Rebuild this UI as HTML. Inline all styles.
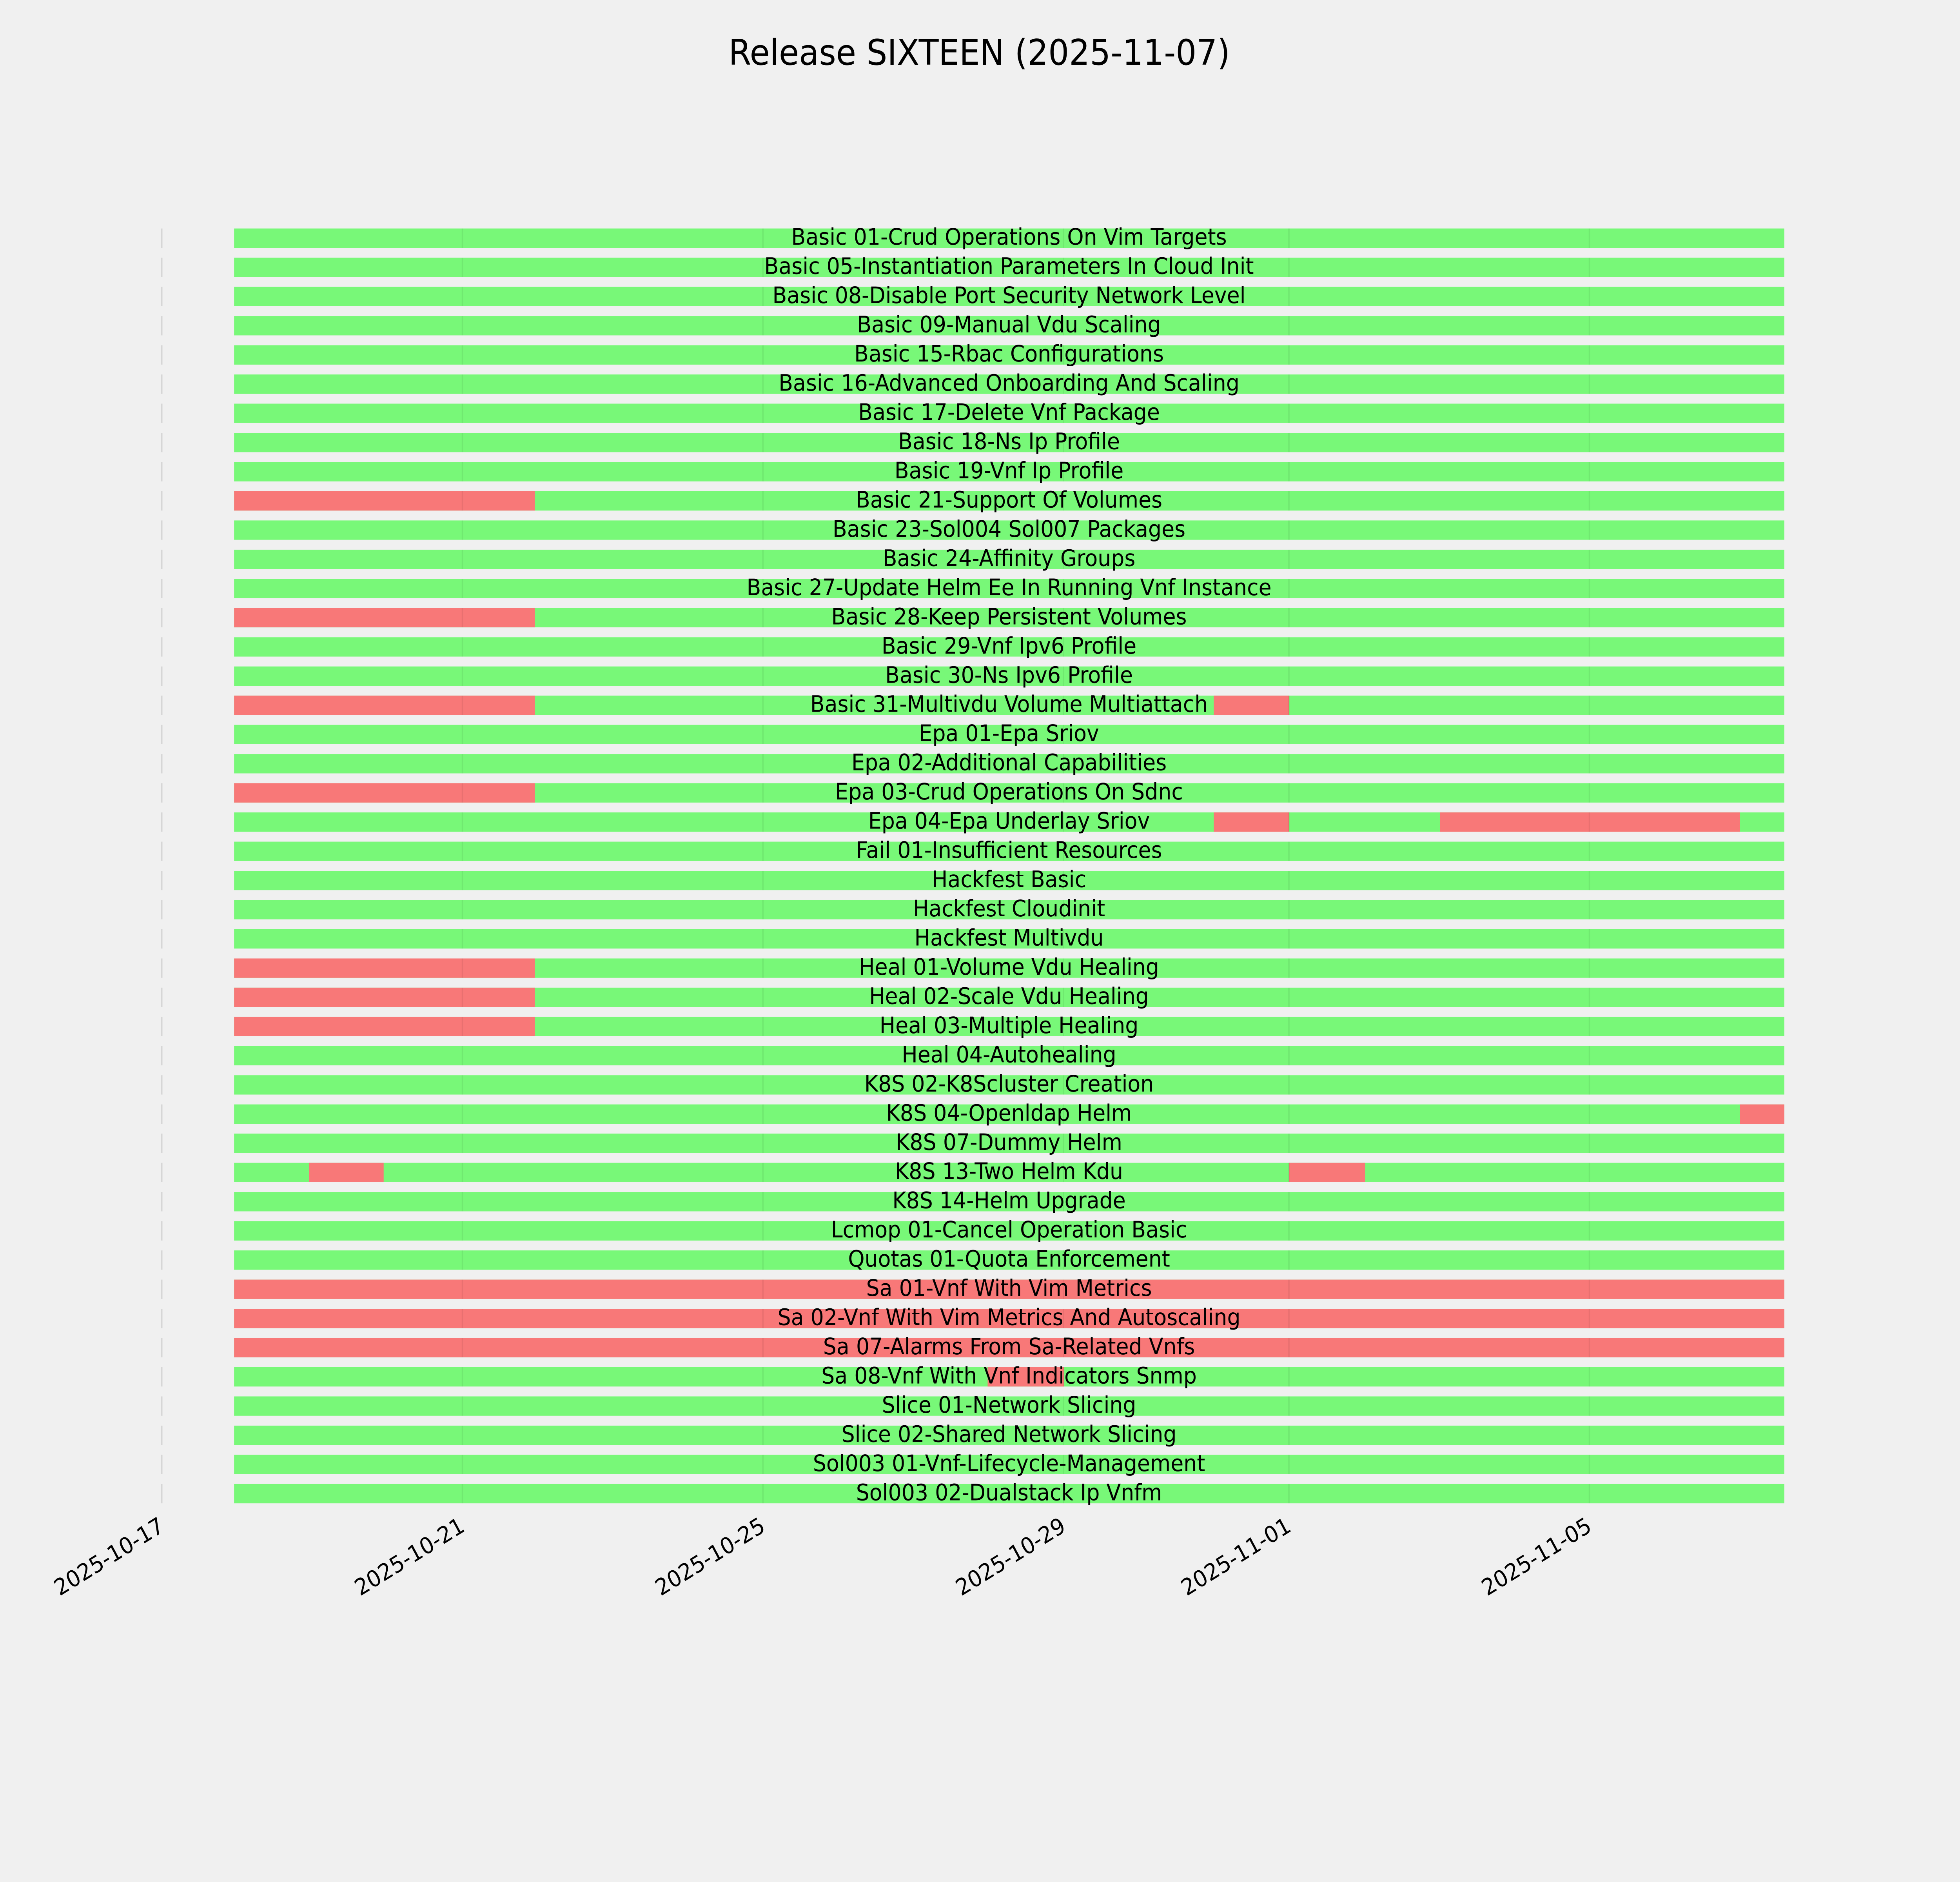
<!DOCTYPE html>
<html><head><meta charset="utf-8"><style>
html,body{margin:0;padding:0;background:#f0f0f0;width:100%;height:100%;overflow:hidden}
svg{display:block;position:fixed;left:0;top:0;width:100vw;height:100vh}
text{font-family:"DejaVu Sans","Liberation Sans",sans-serif}
</style></head><body>
<svg viewBox="0 0 5400 4800" preserveAspectRatio="none" xmlns="http://www.w3.org/2000/svg">
<defs>
<g id="grid" fill="#000" fill-opacity="0.06">
<rect x="1272" y="0" width="4" height="49.3"/>
<rect x="2100" y="0" width="4" height="49.3"/>
<rect x="2928" y="0" width="4" height="49.3"/>
<rect x="3549" y="0" width="4" height="49.3"/>
<rect x="4377" y="0" width="4" height="49.3"/>
</g>
<g id="g"><rect x="444.5" y="0" width="3" height="49.3" fill="#cccccc"/><rect x="645" y="0" width="4271" height="49.3" fill="#78f878"/></g>
</defs>
<rect width="5400" height="4800" fill="#f0f0f0"/>
<text x="2698" y="165" font-size="90" text-anchor="middle" fill="#000">Release SIXTEEN (2025-11-07)</text>
<g font-size="58" text-anchor="middle" fill="#000">
<g transform="translate(0,582.7)"><use href="#g"/><use href="#grid"/><text x="2780" y="41.5">Basic 01-Crud Operations On Vim Targets</text></g>
<g transform="translate(0,657.2)"><use href="#g"/><use href="#grid"/><text x="2780" y="41.5">Basic 05-Instantiation Parameters In Cloud Init</text></g>
<g transform="translate(0,731.6)"><use href="#g"/><use href="#grid"/><text x="2780" y="41.5">Basic 08-Disable Port Security Network Level</text></g>
<g transform="translate(0,806.1)"><use href="#g"/><use href="#grid"/><text x="2780" y="41.5">Basic 09-Manual Vdu Scaling</text></g>
<g transform="translate(0,880.6)"><use href="#g"/><use href="#grid"/><text x="2780" y="41.5">Basic 15-Rbac Configurations</text></g>
<g transform="translate(0,955.1)"><use href="#g"/><use href="#grid"/><text x="2780" y="41.5">Basic 16-Advanced Onboarding And Scaling</text></g>
<g transform="translate(0,1029.5)"><use href="#g"/><use href="#grid"/><text x="2780" y="41.5">Basic 17-Delete Vnf Package</text></g>
<g transform="translate(0,1104.0)"><use href="#g"/><use href="#grid"/><text x="2780" y="41.5">Basic 18-Ns Ip Profile</text></g>
<g transform="translate(0,1178.5)"><use href="#g"/><use href="#grid"/><text x="2780" y="41.5">Basic 19-Vnf Ip Profile</text></g>
<g transform="translate(0,1252.9)"><use href="#g"/><rect x="645" width="829" height="49.3" fill="#f87878"/><use href="#grid"/><text x="2780" y="41.5">Basic 21-Support Of Volumes</text></g>
<g transform="translate(0,1327.4)"><use href="#g"/><use href="#grid"/><text x="2780" y="41.5">Basic 23-Sol004 Sol007 Packages</text></g>
<g transform="translate(0,1401.9)"><use href="#g"/><use href="#grid"/><text x="2780" y="41.5">Basic 24-Affinity Groups</text></g>
<g transform="translate(0,1476.3)"><use href="#g"/><use href="#grid"/><text x="2780" y="41.5">Basic 27-Update Helm Ee In Running Vnf Instance</text></g>
<g transform="translate(0,1550.8)"><use href="#g"/><rect x="645" width="829" height="49.3" fill="#f87878"/><use href="#grid"/><text x="2780" y="41.5">Basic 28-Keep Persistent Volumes</text></g>
<g transform="translate(0,1625.3)"><use href="#g"/><use href="#grid"/><text x="2780" y="41.5">Basic 29-Vnf Ipv6 Profile</text></g>
<g transform="translate(0,1699.8)"><use href="#g"/><use href="#grid"/><text x="2780" y="41.5">Basic 30-Ns Ipv6 Profile</text></g>
<g transform="translate(0,1774.2)"><use href="#g"/><rect x="645" width="829" height="49.3" fill="#f87878"/><rect x="3344" width="207" height="49.3" fill="#f87878"/><use href="#grid"/><text x="2780" y="41.5">Basic 31-Multivdu Volume Multiattach</text></g>
<g transform="translate(0,1848.7)"><use href="#g"/><use href="#grid"/><text x="2780" y="41.5">Epa 01-Epa Sriov</text></g>
<g transform="translate(0,1923.2)"><use href="#g"/><use href="#grid"/><text x="2780" y="41.5">Epa 02-Additional Capabilities</text></g>
<g transform="translate(0,1997.6)"><use href="#g"/><rect x="645" width="829" height="49.3" fill="#f87878"/><use href="#grid"/><text x="2780" y="41.5">Epa 03-Crud Operations On Sdnc</text></g>
<g transform="translate(0,2072.1)"><use href="#g"/><rect x="3344" width="207" height="49.3" fill="#f87878"/><rect x="3967" width="827" height="49.3" fill="#f87878"/><use href="#grid"/><text x="2780" y="41.5">Epa 04-Epa Underlay Sriov</text></g>
<g transform="translate(0,2146.6)"><use href="#g"/><use href="#grid"/><text x="2780" y="41.5">Fail 01-Insufficient Resources</text></g>
<g transform="translate(0,2221.0)"><use href="#g"/><use href="#grid"/><text x="2780" y="41.5">Hackfest Basic</text></g>
<g transform="translate(0,2295.5)"><use href="#g"/><use href="#grid"/><text x="2780" y="41.5">Hackfest Cloudinit</text></g>
<g transform="translate(0,2370.0)"><use href="#g"/><use href="#grid"/><text x="2780" y="41.5">Hackfest Multivdu</text></g>
<g transform="translate(0,2444.5)"><use href="#g"/><rect x="645" width="829" height="49.3" fill="#f87878"/><use href="#grid"/><text x="2780" y="41.5">Heal 01-Volume Vdu Healing</text></g>
<g transform="translate(0,2518.9)"><use href="#g"/><rect x="645" width="829" height="49.3" fill="#f87878"/><use href="#grid"/><text x="2780" y="41.5">Heal 02-Scale Vdu Healing</text></g>
<g transform="translate(0,2593.4)"><use href="#g"/><rect x="645" width="829" height="49.3" fill="#f87878"/><use href="#grid"/><text x="2780" y="41.5">Heal 03-Multiple Healing</text></g>
<g transform="translate(0,2667.9)"><use href="#g"/><use href="#grid"/><text x="2780" y="41.5">Heal 04-Autohealing</text></g>
<g transform="translate(0,2742.3)"><use href="#g"/><use href="#grid"/><text x="2780" y="41.5">K8S 02-K8Scluster Creation</text></g>
<g transform="translate(0,2816.8)"><use href="#g"/><rect x="4794" width="122" height="49.3" fill="#f87878"/><use href="#grid"/><text x="2780" y="41.5">K8S 04-Openldap Helm</text></g>
<g transform="translate(0,2891.3)"><use href="#g"/><use href="#grid"/><text x="2780" y="41.5">K8S 07-Dummy Helm</text></g>
<g transform="translate(0,2965.7)"><use href="#g"/><rect x="851" width="206" height="49.3" fill="#f87878"/><rect x="3551" width="210" height="49.3" fill="#f87878"/><use href="#grid"/><text x="2780" y="41.5">K8S 13-Two Helm Kdu</text></g>
<g transform="translate(0,3040.2)"><use href="#g"/><use href="#grid"/><text x="2780" y="41.5">K8S 14-Helm Upgrade</text></g>
<g transform="translate(0,3114.7)"><use href="#g"/><use href="#grid"/><text x="2780" y="41.5">Lcmop 01-Cancel Operation Basic</text></g>
<g transform="translate(0,3189.2)"><use href="#g"/><use href="#grid"/><text x="2780" y="41.5">Quotas 01-Quota Enforcement</text></g>
<g transform="translate(0,3263.6)"><use href="#g"/><rect x="645" width="4271" height="49.3" fill="#f87878"/><use href="#grid"/><text x="2780" y="41.5">Sa 01-Vnf With Vim Metrics</text></g>
<g transform="translate(0,3338.1)"><use href="#g"/><rect x="645" width="4271" height="49.3" fill="#f87878"/><use href="#grid"/><text x="2780" y="41.5">Sa 02-Vnf With Vim Metrics And Autoscaling</text></g>
<g transform="translate(0,3412.6)"><use href="#g"/><rect x="645" width="4271" height="49.3" fill="#f87878"/><use href="#grid"/><text x="2780" y="41.5">Sa 07-Alarms From Sa-Related Vnfs</text></g>
<g transform="translate(0,3487.0)"><use href="#g"/><rect x="2721" width="210" height="49.3" fill="#f87878"/><use href="#grid"/><text x="2780" y="41.5">Sa 08-Vnf With Vnf Indicators Snmp</text></g>
<g transform="translate(0,3561.5)"><use href="#g"/><use href="#grid"/><text x="2780" y="41.5">Slice 01-Network Slicing</text></g>
<g transform="translate(0,3636.0)"><use href="#g"/><use href="#grid"/><text x="2780" y="41.5">Slice 02-Shared Network Slicing</text></g>
<g transform="translate(0,3710.4)"><use href="#g"/><use href="#grid"/><text x="2780" y="41.5">Sol003 01-Vnf-Lifecycle-Management</text></g>
<g transform="translate(0,3784.9)"><use href="#g"/><use href="#grid"/><text x="2780" y="41.5">Sol003 02-Dualstack Ip Vnfm</text></g>
</g>
<g font-size="58" text-anchor="end" fill="#000">
<text transform="translate(456,3903) rotate(-30)">2025-10-17</text>
<text transform="translate(1284,3903) rotate(-30)">2025-10-21</text>
<text transform="translate(2112,3903) rotate(-30)">2025-10-25</text>
<text transform="translate(2940,3903) rotate(-30)">2025-10-29</text>
<text transform="translate(3561,3903) rotate(-30)">2025-11-01</text>
<text transform="translate(4389,3903) rotate(-30)">2025-11-05</text>
</g>
</svg>
</body></html>
